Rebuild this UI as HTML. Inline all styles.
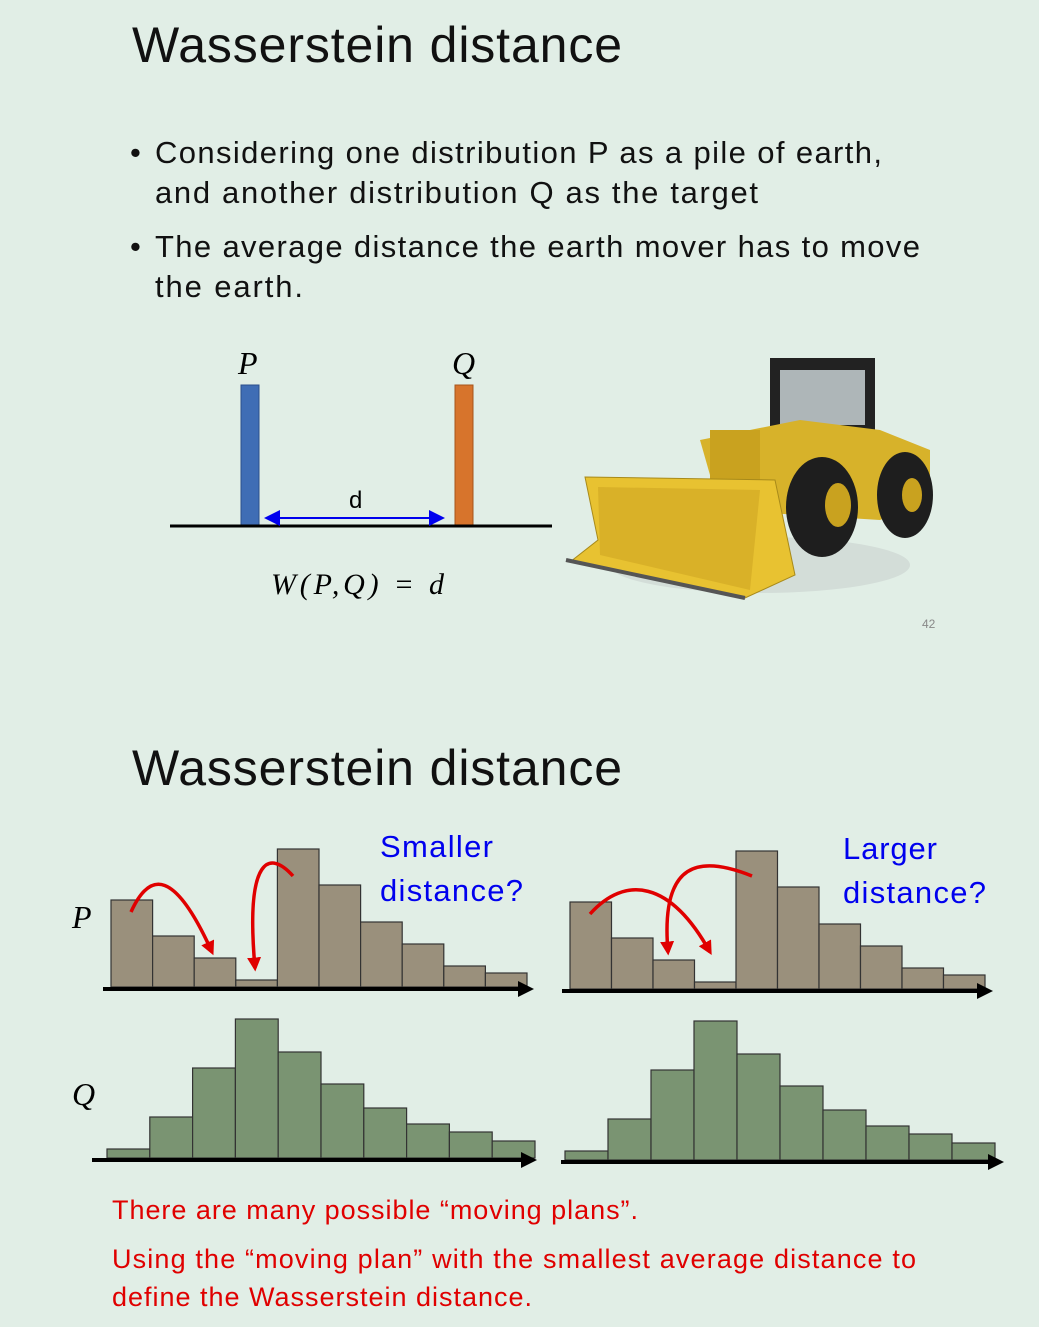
<!DOCTYPE html>
<html><head><meta charset="utf-8"><style>
body{margin:0;width:1039px;height:1327px;background:#e1eee6;overflow:hidden;font-family:"Liberation Sans","DejaVu Sans",sans-serif}
svg{position:absolute;left:0;top:0}
</style></head><body>
<svg width="1039" height="1327">
<defs>
<marker id="ar" markerWidth="8" markerHeight="8" refX="7" refY="4" orient="auto"><path d="M0,0L8,4L0,8z" fill="#0000ee"/></marker>
<marker id="ar2" markerWidth="8" markerHeight="8" refX="7" refY="4" orient="auto-start-reverse"><path d="M0,0L8,4L0,8z" fill="#0000ee"/></marker>
<marker id="rr" markerWidth="4" markerHeight="4" refX="3" refY="2" orient="auto"><path d="M0,0L4,2L0,4z" fill="#e00000"/></marker>
<marker id="ka" markerWidth="4" markerHeight="4" refX="3" refY="2" orient="auto"><path d="M0,0L4,2L0,4z" fill="#000"/></marker>
</defs>
<text x="132" y="62" font-size="50" fill="#111" textLength="490">Wasserstein distance</text>
<g font-size="31" fill="#111">
<text x="130" y="163">•</text><text x="155" y="163" textLength="727">Considering one distribution P as a pile of earth,</text>
<text x="155" y="203" textLength="603">and another distribution Q as the target</text>
<text x="130" y="257">•</text><text x="155" y="257" textLength="765">The average distance the earth mover has to move</text>
<text x="155" y="297" textLength="148">the earth.</text>
</g>
<g>
<text x="238" y="374" font-size="32" font-style="italic" font-family="Liberation Serif,serif">P</text>
<text x="452" y="374" font-size="32" font-style="italic" font-family="Liberation Serif,serif">Q</text>
<rect x="241" y="385" width="18" height="141" fill="#3f6db5" stroke="#2b4f8c"/>
<rect x="455" y="385" width="18" height="141" fill="#d7742c" stroke="#a6551c"/>
<line x1="170" y1="526" x2="552" y2="526" stroke="#000" stroke-width="3"/>
<line x1="266" y1="518" x2="443" y2="518" stroke="#0000ee" stroke-width="2" marker-end="url(#ar)" marker-start="url(#ar2)"/>
<text x="349" y="508" font-size="24">d</text>
<text x="271" y="594" font-size="30" font-style="italic" font-family="Liberation Serif,serif" textLength="173">W(P,Q) = d</text>
</g>
<g>
<ellipse cx="760" cy="565" rx="150" ry="28" fill="#d3ddd8"/>
<rect x="770" y="358" width="105" height="80" fill="#222"/>
<rect x="780" y="370" width="85" height="55" fill="#aeb6b8"/>
<polygon points="700,440 800,420 880,430 930,450 930,500 880,520 720,510" fill="#d7b22a"/>
<rect x="710" y="430" width="50" height="60" fill="#c9a21f"/>
<ellipse cx="905" cy="495" rx="28" ry="43" fill="#1e1e1e"/>
<ellipse cx="912" cy="495" rx="10" ry="17" fill="#c9a21f"/>
<ellipse cx="822" cy="507" rx="36" ry="50" fill="#1e1e1e"/>
<ellipse cx="838" cy="505" rx="13" ry="22" fill="#c9a21f"/>
<polygon points="585,477 775,480 795,575 745,598 570,562 598,540" fill="#e8c231" stroke="#a88a1a"/>
<polygon points="598,487 760,490 750,590 600,555" fill="#d9b128"/>
<polyline points="566,560 745,598" stroke="#555" stroke-width="4"/>
</g>
<text x="922" y="628" font-size="12" fill="#888">42</text>

<text x="132" y="785" font-size="50" fill="#111" textLength="490">Wasserstein distance</text>
<text x="72" y="928" font-size="32" font-style="italic" font-family="Liberation Serif,serif">P</text>
<text x="72" y="1105" font-size="32" font-style="italic" font-family="Liberation Serif,serif">Q</text>
<g font-size="31" fill="#0000ee">
<text x="380" y="857" textLength="113">Smaller</text><text x="380" y="901" textLength="143">distance?</text>
<text x="843" y="859" textLength="94">Larger</text><text x="843" y="903" textLength="143">distance?</text>
</g>
<g id="hists"></g>
<g stroke="#e00000" stroke-width="3.5" fill="none">
<path d="M131,912 C150,870 175,870 212,952" marker-end="url(#rr)"/>
<path d="M293,876 C270,850 245,855 255,968" marker-end="url(#rr)"/>
<path d="M590,914 C625,875 670,880 710,952" marker-end="url(#rr)"/>
<path d="M752,876 C700,855 660,860 668,952" marker-end="url(#rr)"/>
</g>
<g font-size="27" fill="#e00000">
<text x="112" y="1219" textLength="526">There are many possible “moving plans”.</text>
<text x="112" y="1268" textLength="804">Using the “moving plan” with the smallest average distance to</text>
<text x="112" y="1306" textLength="420">define the Wasserstein distance.</text>
</g>
</svg>
<script>
const pValues=[87,51,29,7,138,102,65,43,21,14];
const qValues=[9,41,90,139,106,74,50,34,26,17];
const g=document.getElementById('hists');
const NS='http://www.w3.org/2000/svg';
function hist(vals,x0,x1,base,fill,name,axisX0,axisX1){
  const w=(x1-x0)/vals.length;
  vals.forEach((v,i)=>{
    const r=document.createElementNS(NS,'rect');
    r.setAttribute('x',x0+i*w);r.setAttribute('y',base-v);
    r.setAttribute('width',w);r.setAttribute('height',v);
    r.setAttribute('fill',fill);r.setAttribute('stroke','#333');r.setAttribute('stroke-width','1.2');
    
    
    g.appendChild(r);
  });
  const l=document.createElementNS(NS,'line');
  l.setAttribute('x1',axisX0);l.setAttribute('x2',axisX1);l.setAttribute('y1',base+2);l.setAttribute('y2',base+2);
  l.setAttribute('stroke','#000');l.setAttribute('stroke-width','4');l.setAttribute('marker-end','url(#ka)');
  
  
  g.appendChild(l);
}
hist(pValues,111,527,987,'#9a907c','p-left',103,530);
hist(pValues,570,985,989,'#9a907c','p-right',562,989);
hist(qValues,107,535,1158,'#7a9472','q-left',92,533);
hist(qValues,565,995,1160,'#7a9472','q-right',561,1000);
</script>
</body></html>
